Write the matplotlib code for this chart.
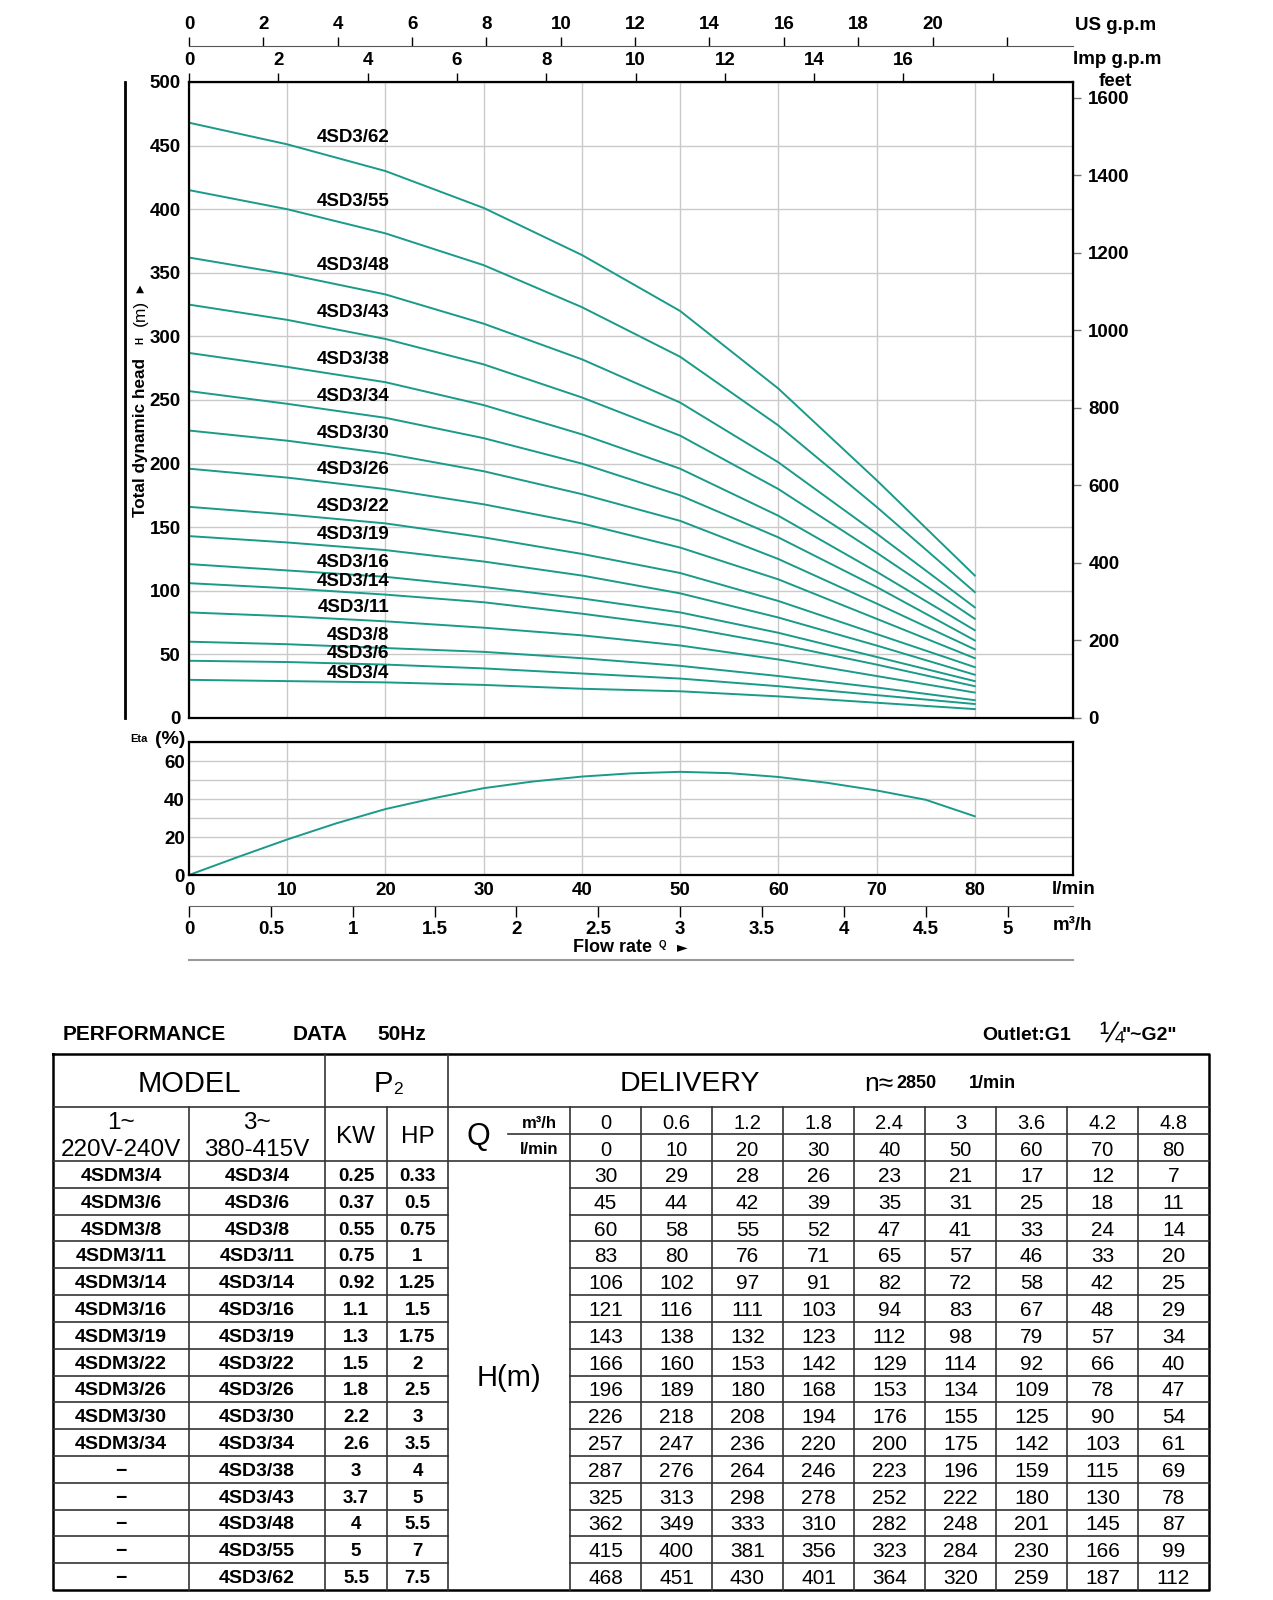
import matplotlib
matplotlib.use("Agg")
import matplotlib.pyplot as plt

plt.rcParams['font.family'] = ['Liberation Sans', 'DejaVu Sans']
plt.rcParams['font.weight'] = 'bold'

W, H = 1273, 1600
TEAL = '#1a9a89'
GRID = '#cacaca'
LINE = '#333333'
FS = 13.5

# ---- data ----
flow_lmin = [0, 10, 20, 30, 40, 50, 60, 70, 80]
flow_m3h = [0, 0.6, 1.2, 1.8, 2.4, 3, 3.6, 4.2, 4.8]

models_1ph = ["4SDM3/4", "4SDM3/6", "4SDM3/8", "4SDM3/11", "4SDM3/14", "4SDM3/16",
              "4SDM3/19", "4SDM3/22", "4SDM3/26", "4SDM3/30", "4SDM3/34",
              "−", "−", "−", "−", "−"]
models_3ph = ["4SD3/4", "4SD3/6", "4SD3/8", "4SD3/11", "4SD3/14", "4SD3/16",
              "4SD3/19", "4SD3/22", "4SD3/26", "4SD3/30", "4SD3/34",
              "4SD3/38", "4SD3/43", "4SD3/48", "4SD3/55", "4SD3/62"]
kw = ["0.25", "0.37", "0.55", "0.75", "0.92", "1.1", "1.3", "1.5",
      "1.8", "2.2", "2.6", "3", "3.7", "4", "5", "5.5"]
hp = ["0.33", "0.5", "0.75", "1", "1.25", "1.5", "1.75", "2",
      "2.5", "3", "3.5", "4", "5", "5.5", "7", "7.5"]

head = [
    [30, 29, 28, 26, 23, 21, 17, 12, 7],
    [45, 44, 42, 39, 35, 31, 25, 18, 11],
    [60, 58, 55, 52, 47, 41, 33, 24, 14],
    [83, 80, 76, 71, 65, 57, 46, 33, 20],
    [106, 102, 97, 91, 82, 72, 58, 42, 25],
    [121, 116, 111, 103, 94, 83, 67, 48, 29],
    [143, 138, 132, 123, 112, 98, 79, 57, 34],
    [166, 160, 153, 142, 129, 114, 92, 66, 40],
    [196, 189, 180, 168, 153, 134, 109, 78, 47],
    [226, 218, 208, 194, 176, 155, 125, 90, 54],
    [257, 247, 236, 220, 200, 175, 142, 103, 61],
    [287, 276, 264, 246, 223, 196, 159, 115, 69],
    [325, 313, 298, 278, 252, 222, 180, 130, 78],
    [362, 349, 333, 310, 282, 248, 201, 145, 87],
    [415, 400, 381, 356, 323, 284, 230, 166, 99],
    [468, 451, 430, 401, 364, 320, 259, 187, 112],
]

eta_q = [0, 5, 10, 15, 20, 25, 30, 35, 40, 45, 50, 55, 60, 65, 70, 75, 80]
eta = [0, 9.5, 18.7, 27.2, 34.7, 40.5, 45.7, 49.2, 51.8, 53.5, 54.3, 53.6,
       51.6, 48.5, 44.5, 39.6, 30.9]

# height (m) where each curve name sits
label_y = [35, 50.5, 65, 86.5, 107.5, 122.5, 144, 166.5, 195.5, 224, 252.5,
           282, 319, 356, 406, 456.5]


def box(l, t, r, b):
    return [l / W, 1 - b / H, (r - l) / W, (b - t) / H]


fig = plt.figure(figsize=(W / 100, H / 100), dpi=100)

# overlay in pixel coordinates for free text and the table
ov = fig.add_axes([0, 0, 1, 1])
ov.set_xlim(0, W)
ov.set_ylim(H, 0)
ov.set_axis_off()

# ---- head chart ----
ax = fig.add_axes(box(189, 82, 1073, 718))
for h in head:
    ax.plot(flow_lmin, h, color=TEAL, lw=1.4)
for name, y in zip(models_3ph, label_y):
    ax.text(20.4, y, name, ha='right', va='center', fontsize=FS)
ax.set_xlim(0, 90)
ax.set_ylim(0, 500)
ax.set_xticks(range(0, 90, 10))
ax.set_yticks(range(0, 501, 50))
ax.grid(True, color=GRID, lw=1)
ax.tick_params(bottom=False, labelbottom=False, left=False, labelsize=FS, pad=2.5)
for s in ax.spines.values():
    s.set_linewidth(1.6)

imp = ax.secondary_xaxis('top', functions=(lambda q: q / 4.546, lambda g: g * 4.546))
imp.set_xticks(range(0, 19, 2), labels=[str(v) for v in range(0, 17, 2)] + [''])
imp.tick_params(direction='out', length=6.5, width=1, labelsize=FS, pad=3)

us = ax.secondary_xaxis(1 + 36 / 636, functions=(lambda q: q / 3.785, lambda g: g * 3.785))
us.set_xticks(range(0, 23, 2), labels=[str(v) for v in range(0, 21, 2)] + [''])
us.tick_params(direction='out', length=6.5, width=1, labelsize=FS, pad=3)
us.spines['top'].set_color('#555555')

ft = ax.secondary_yaxis('right', functions=(lambda m: m * 3.28084, lambda f: f / 3.28084))
ft.set_yticks(range(0, 1601, 200))
ft.tick_params(direction='out', length=6, width=1, color='#777777', labelsize=FS, pad=5)

ov.text(1075, 25, 'US g.p.m', ha='left', va='center', fontsize=FS)
ov.text(1073, 59, 'Imp g.p.m', ha='left', va='center', fontsize=FS)
ov.text(1115, 82, 'feet', ha='center', va='center', fontsize=FS)

# y label with its bar
ov.plot([125, 125], [82, 718], color='black', lw=2)
ov.text(140, 517, 'Total dynamic head', rotation=90, ha='center', va='bottom', fontsize=12.3)
ov.text(140, 341, 'H', rotation=90, ha='center', va='center', fontsize=7)
ov.text(140, 313, '(m)', rotation=90, ha='center', va='center', fontsize=12.5,
        fontweight='normal')
ov.text(140, 289, '▲', ha='center', va='center', fontsize=7.5,
        family=['DejaVu Sans'])

# ---- efficiency chart ----
ea = fig.add_axes(box(189, 742, 1073, 875))
ea.plot(eta_q, eta, color=TEAL, lw=1.4)
ea.set_xlim(0, 90)
ea.set_ylim(0, 70)
ea.set_xticks(range(0, 81, 10))
ea.set_yticks([0, 20, 40, 60])
ea.set_yticks([10, 30, 50, 70], minor=True)
ea.grid(True, which='both', color=GRID, lw=1)
ea.tick_params(which='both', length=0, labelsize=FS, pad=3)
ea.tick_params(axis='x', pad=5)
for s in ea.spines.values():
    s.set_linewidth(1.6)

ov.text(139, 739, 'Eta', ha='center', va='center', fontsize=8)
ov.text(170, 739, '(%)', ha='center', va='center', fontsize=14)
ov.text(1052, 890, 'l/min', ha='left', va='center', fontsize=FS)

m3 = ea.secondary_xaxis(-31 / 133, functions=(lambda q: q * 0.06, lambda m: m / 0.06))
m3_ticks = [i / 2 for i in range(11)]
m3.set_xticks(m3_ticks, labels=[f"{v:g}" for v in m3_ticks])
m3.tick_params(direction='out', length=8, width=1, labelsize=FS, pad=3)
m3.spines['bottom'].set_color('#666666')
ov.text(1053, 926, 'm³/h', ha='left', va='center', fontsize=FS)

ov.text(573, 947, 'Flow rate', ha='left', va='center', fontsize=13)
ov.text(662, 945, 'Q', ha='center', va='center', fontsize=7)
ov.text(682, 947, '►', ha='center', va='center', fontsize=10, family=['DejaVu Sans'])
ov.plot([189, 1073], [960, 960], color='#999999', lw=1.5)

# ---- performance table ----
ov.text(63, 1035, 'PERFORMANCE', ha='left', va='center', fontsize=15)
ov.text(293, 1035, 'DATA', ha='left', va='center', fontsize=15)
ov.text(377, 1035, '50Hz', ha='left', va='center', fontsize=15)
ov.text(1071, 1035, 'Outlet:G1', ha='right', va='center', fontsize=14)
ov.text(1111, 1034, '¼', ha='center', va='center', fontsize=21, fontweight='normal')
ov.text(1122, 1035, '"~G2"', ha='left', va='center', fontsize=14)

T_L, T_R, T_T, T_B = 53, 1209, 1054, 1590
R1, R2, R3 = 1107, 1134, 1161
n_rows = len(models_3ph)
rh = (T_B - R3) / n_rows
data_x = [570 + 71.0 * i for i in range(10)]
kw_opts = dict(color=LINE, lw=1.2)

ov.plot([T_L, T_R, T_R, T_L, T_L], [T_T, T_T, T_B, T_B, T_T], color='black', lw=1.8)
ov.plot([T_L, T_R], [R1, R1], **kw_opts)
ov.plot([508, T_R], [R2, R2], **kw_opts)
ov.plot([T_L, T_R], [R3, R3], **kw_opts)
for k in range(1, n_rows):
    y = R3 + k * rh
    ov.plot([T_L, 448], [y, y], **kw_opts)
    ov.plot([570, T_R], [y, y], **kw_opts)
for x in [325, 448]:
    ov.plot([x, x], [T_T, T_B], **kw_opts)
for x in [189, 387] + data_x[:-1]:
    ov.plot([x, x], [R1, T_B], **kw_opts)

DY = 3  # text sits slightly low in its cells
ov.text(189, 1081 + DY, 'MODEL', ha='center', va='center', fontsize=21, fontweight='normal')
ov.text(393, 1081 + DY, 'P', ha='right', va='center', fontsize=21, fontweight='normal')
ov.text(393, 1086 + DY, '2', ha='left', va='center', fontsize=12.5, fontweight='normal')
ov.text(690, 1081 + DY, 'DELIVERY', ha='center', va='center', fontsize=20.5, fontweight='normal')
ov.text(879, 1081 + DY, 'n≈', ha='center', va='center', fontsize=19, fontweight='normal')
ov.text(896, 1081 + DY, '2850', ha='left', va='center', fontsize=13)
ov.text(969, 1081 + DY, '1/min', ha='left', va='center', fontsize=13)

ov.text(121, 1120 + DY, '1~', ha='center', va='center', fontsize=17.5, fontweight='normal')
ov.text(121, 1147 + DY, '220V-240V', ha='center', va='center', fontsize=17.5, fontweight='normal')
ov.text(257, 1120 + DY, '3~', ha='center', va='center', fontsize=17.5, fontweight='normal')
ov.text(257, 1147 + DY, '380-415V', ha='center', va='center', fontsize=17.5, fontweight='normal')
ov.text(356, 1134 + DY, 'KW', ha='center', va='center', fontsize=17.5, fontweight='normal')
ov.text(417.5, 1134 + DY, 'HP', ha='center', va='center', fontsize=17.5, fontweight='normal')
ov.text(478, 1134 + DY, 'Q', ha='center', va='center', fontsize=22, fontweight='normal')
ov.text(539, 1120 + DY, 'm³/h', ha='center', va='center', fontsize=12)
ov.text(539, 1147 + DY, 'l/min', ha='center', va='center', fontsize=12)
ov.text(509, (R3 + T_B) / 2 + DY, 'H(m)', ha='center', va='center', fontsize=21, fontweight='normal')

centers = [(data_x[i] + data_x[i + 1]) / 2 for i in range(9)]
for cx, qm, ql in zip(centers, flow_m3h, flow_lmin):
    ov.text(cx, 1120.5 + DY, f"{qm:g}", ha='center', va='center', fontsize=14.5, fontweight='normal')
    ov.text(cx, 1147.5 + DY, str(ql), ha='center', va='center', fontsize=14.5, fontweight='normal')

for i in range(n_rows):
    y = R3 + (i + 0.5) * rh + DY - 1
    ov.text(121, y, models_1ph[i], ha='center', va='center', fontsize=14)
    ov.text(257, y, models_3ph[i], ha='center', va='center', fontsize=14)
    ov.text(356, y, kw[i], ha='center', va='center', fontsize=13.5)
    ov.text(417.5, y, hp[i], ha='center', va='center', fontsize=13.5)
    for cx, v in zip(centers, head[i]):
        ov.text(cx, y, str(v), ha='center', va='center', fontsize=15, fontweight='normal')

fig.savefig('out.png', dpi=100)
